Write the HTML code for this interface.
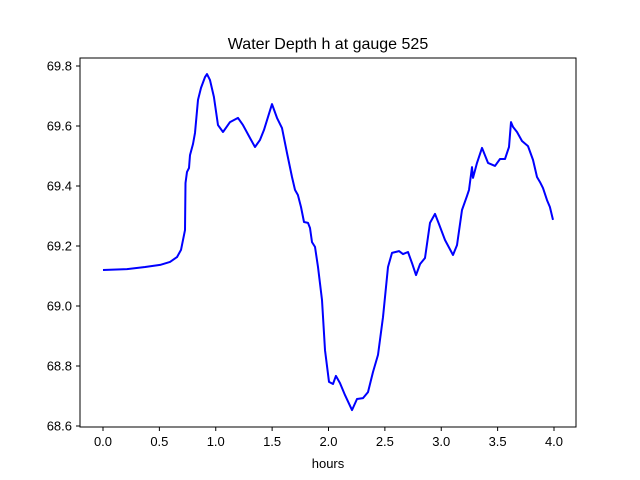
<!DOCTYPE html>
<html><head><meta charset="utf-8">
<style>
html,body{margin:0;padding:0;background:#fff;}
svg{display:block;font-family:"Liberation Sans","DejaVu Sans",sans-serif;}
</style></head>
<body>
<svg id="chart" width="640" height="480" viewBox="0 0 640 480">
<rect x="0" y="0" width="640" height="480" fill="#fff"/>
<text x="328" y="49" font-size="16" text-anchor="middle" fill="#000">Water Depth h at gauge 525</text>
<g id="plot"></g>
<rect x="80" y="58" width="496" height="369" fill="none" stroke="#000" stroke-width="1"/>
<text x="328" y="468" font-size="13" text-anchor="middle" fill="#000">hours</text>
</svg>
<script>
const hours = [0,0.213,0.373,0.506,0.594,0.656,0.692,0.727,0.732,0.745,0.763,0.772,0.798,0.816,0.843,0.869,0.905,0.922,0.949,0.984,1.020,1.064,1.126,1.197,1.242,1.304,1.348,1.392,1.428,1.499,1.543,1.588,1.632,1.676,1.703,1.729,1.756,1.783,1.818,1.836,1.854,1.880,1.907,1.942,1.969,2.004,2.040,2.066,2.102,2.146,2.208,2.253,2.306,2.350,2.395,2.439,2.483,2.528,2.563,2.625,2.661,2.705,2.741,2.776,2.812,2.856,2.900,2.945,2.980,3.033,3.104,3.140,3.184,3.228,3.246,3.273,3.282,3.317,3.361,3.415,3.477,3.521,3.565,3.601,3.619,3.636,3.672,3.716,3.769,3.814,3.849,3.876,3.902,3.938,3.964,3.991];
const depth = [69.120,69.123,69.130,69.137,69.147,69.163,69.187,69.253,69.41,69.447,69.460,69.503,69.540,69.577,69.687,69.727,69.763,69.773,69.753,69.697,69.603,69.580,69.613,69.627,69.603,69.560,69.530,69.553,69.587,69.673,69.627,69.593,69.510,69.430,69.387,69.370,69.330,69.280,69.277,69.260,69.213,69.197,69.130,69.020,68.853,68.747,68.740,68.767,68.743,68.703,68.653,68.690,68.693,68.713,68.780,68.837,68.963,69.130,69.177,69.183,69.173,69.180,69.143,69.103,69.140,69.160,69.277,69.307,69.273,69.220,69.170,69.203,69.320,69.367,69.387,69.463,69.427,69.477,69.527,69.477,69.467,69.490,69.490,69.530,69.613,69.597,69.580,69.550,69.533,69.487,69.430,69.413,69.393,69.353,69.330,69.287];
const xTicks = [0,0.5,1.0,1.5,2.0,2.5,3.0,3.5,4.0];
const yTicks = [68.6,68.8,69.0,69.2,69.4,69.6,69.8];

const NS = "http://www.w3.org/2000/svg";
const svg = document.getElementById('chart');
const plot = document.getElementById('plot');
function xs(v){ return 103 + v * (554 - 103) / 4; }
function ys(v){ return 426 - (v - 68.6) * (426 - 66) / 1.2; }

xTicks.forEach(t => {
  const l = document.createElementNS(NS,'line');
  l.setAttribute('x1', xs(t)); l.setAttribute('x2', xs(t));
  l.setAttribute('y1', 427); l.setAttribute('y2', 431);
  l.setAttribute('stroke','#000');
  
  
  svg.appendChild(l);
  const tx = document.createElementNS(NS,'text');
  tx.setAttribute('x', xs(t)); tx.setAttribute('y', 446);
  tx.setAttribute('font-size','13'); tx.setAttribute('text-anchor','middle');
  tx.textContent = t.toFixed(1);
  
  
  svg.appendChild(tx);
});
yTicks.forEach(t => {
  const l = document.createElementNS(NS,'line');
  l.setAttribute('x1', 76); l.setAttribute('x2', 80);
  l.setAttribute('y1', ys(t)); l.setAttribute('y2', ys(t));
  l.setAttribute('stroke','#000');
  
  
  svg.appendChild(l);
  const tx = document.createElementNS(NS,'text');
  tx.setAttribute('x', 72); tx.setAttribute('y', ys(t) + 4.5);
  tx.setAttribute('font-size','13'); tx.setAttribute('text-anchor','end');
  tx.textContent = t.toFixed(1);
  
  
  svg.appendChild(tx);
});
const p = document.createElementNS(NS,'polyline');
p.setAttribute('points', hours.map((h,i) => xs(h).toFixed(1) + ',' + ys(depth[i]).toFixed(1)).join(' '));
p.setAttribute('fill','none'); p.setAttribute('stroke','#0000ff');
p.setAttribute('stroke-width','2'); p.setAttribute('stroke-linejoin','round');


plot.appendChild(p);
</script>
</body></html>
